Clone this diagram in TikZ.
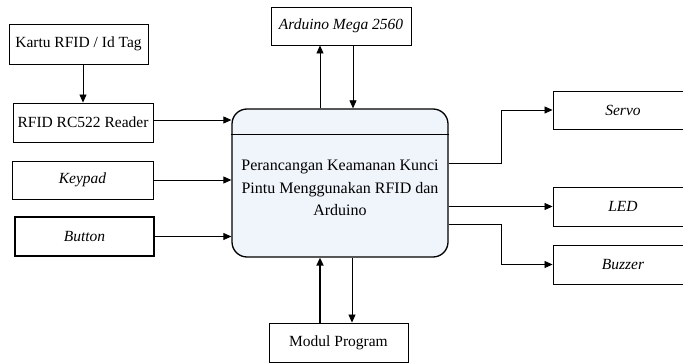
\documentclass[tikz,border=0pt]{standalone}
\usepackage{fontspec}
\setmainfont{Liberation Serif}
\usetikzlibrary{arrows.meta}
\begin{document}
\begin{tikzpicture}[x=1pt,y=-1pt,
  box/.style={draw,line width=0.9pt,inner sep=0pt,font=\fontsize{15.5}{18}\selectfont},
  arr/.style={line width=0.8pt,-{Triangle[length=8pt,width=7pt]}},
  mainbox/.style={draw,line width=1.3pt,rounded corners=15pt,fill={rgb,255:red,240;green,244;blue,251},
    minimum width=216pt,minimum height=148pt,inner sep=0pt}]
\useasboundingbox (0,0) rectangle (683,363);
\node[box,minimum width=139pt,minimum height=40pt] (kartu) at (78.5,44) {Kartu RFID / Id Tag};
\node[box,minimum width=140pt,minimum height=39pt] (rfid) at (83,122.5) {RFID RC522 Reader};
\node[box,minimum width=141pt,minimum height=38pt] (keypad) at (82.5,180) {\itshape Keypad};
\node[box,minimum width=139pt,minimum height=39pt,line width=1.3pt] (button) at (84.5,236.5) {\itshape Button};
\node[box,minimum width=140pt,minimum height=38pt] (arduino) at (341,26) {\itshape Arduino Mega 2560};
\node[box,minimum width=139pt,minimum height=39pt] (modul) at (338.5,342.5) {Modul Program};
\node[box,minimum width=140pt,minimum height=38pt] (servo) at (623,110) {\itshape Servo};
\node[box,minimum width=140pt,minimum height=39pt] (led) at (623,206.5) {\itshape LED};
\node[box,minimum width=140pt,minimum height=39pt] (buzzer) at (623,264.5) {\itshape Buzzer};
\node[mainbox] (main) at (340,183) {};
\draw[line width=0.9pt] (main.west |- 0,134) -- (main.east |- 0,134);
\node[font=\fontsize{16}{22.5}\selectfont,align=center] (maintext) at (340,188)
  {Perancangan Keamanan Kunci\\Pintu Menggunakan RFID dan\\Arduino};
% inputs
\draw[arr] (kartu.south -| rfid.north) -- (rfid.north);
\draw[arr] ([yshift=2.5pt]rfid.east) -- ([yshift=2.5pt]rfid.east -| main.west);
\draw[arr] (keypad.east) -- (keypad.east -| main.west);
\draw[arr] (button.east) -- (button.east -| main.west);
% arduino
\draw[arr] ([xshift=-20pt]main.north) -- ([xshift=-20pt]main.north |- arduino.south);
\draw[arr] ([xshift=13pt]main.north |- arduino.south) -- ([xshift=13pt]main.north);
% modul
\draw[arr,line width=1.8pt] ([xshift=-20pt]main.south |- modul.north) -- ([xshift=-20pt]main.south);
\draw[arr] ([xshift=12pt]main.south) -- ([xshift=12pt]main.south |- modul.north);
% outputs
\draw[arr] ([yshift=20pt]main.east) -- ++(53,0) |- (servo.west);
\draw[arr] (main.east |- led.west) -- (led.west);
\draw[arr] ([yshift=-41pt]main.east) -- ++(53,0) |- (buzzer.west);
\end{tikzpicture}
\end{document}
